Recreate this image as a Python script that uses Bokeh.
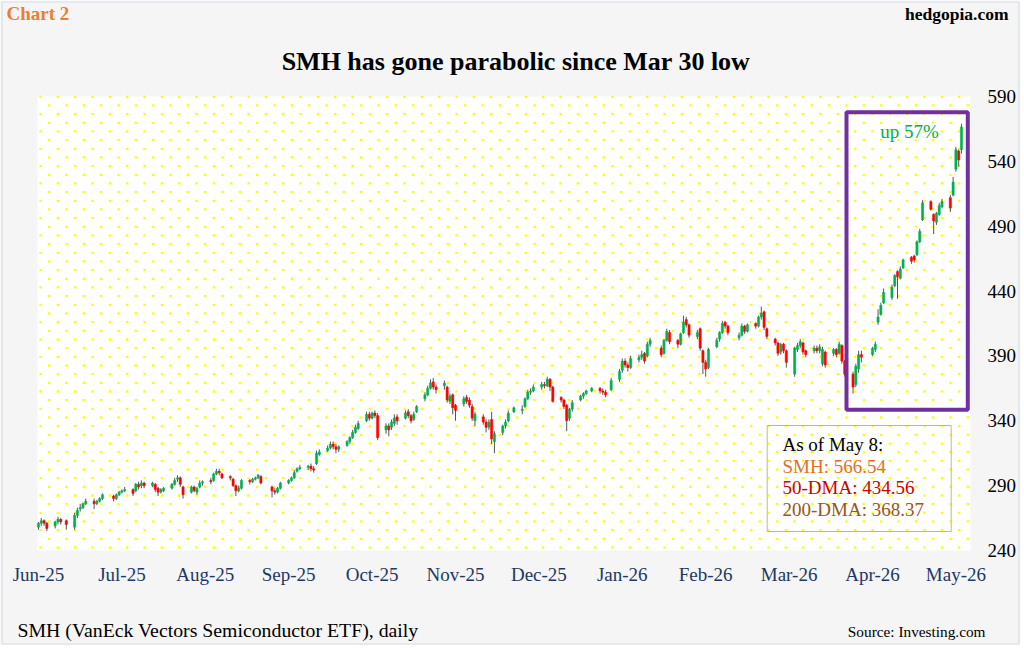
import numpy as np
import pandas as pd
from bokeh.plotting import figure
from bokeh.models import Range1d, FixedTicker, Label, BoxAnnotation, ColumnDataSource
from bokeh.embed import file_html
from bokeh.resources import INLINE

# ---------------- data ----------------
start_date = "2025-06-10"
end_date = "2026-05-08"
market_holidays = ["2025-06-19", "2025-07-04", "2025-09-01", "2025-11-27", "2025-12-25",
                   "2026-01-01", "2026-01-19", "2026-02-16", "2026-04-03"]

opens = [
    258, 261, 263, 261,
    259, 262, 264, 263,
    258, 267, 272, 273, 276,
    278, 276, 278, 280,
    282, 280, 283, 285, 286,
    287, 286, 291, 290, 292,
    290, 291, 288, 285, 286,
    288, 291, 295, 296, 289,
    285, 289, 285, 289, 292,
    294, 294, 299, 301, 299,
    297, 295, 290, 286, 288,
    294, 293, 295, 296, 297,
    289, 286, 285, 288,
    292, 294, 296, 301, 303,
    304, 305, 303, 307, 314,
    317, 319, 322, 320, 318,
    321, 324, 327, 331, 334,
    340, 345, 342, 346, 344,
    333, 336, 335, 338, 343,
    342, 347, 344, 341, 347,
    357, 360, 365, 370, 366,
    367, 366, 355, 360, 352,
    353, 358, 356, 351, 340,
    343, 339, 335, 341, 324,
    331, 336, 340, 347,
    348, 351, 357, 362, 363,
    366, 368, 367, 372, 366,
    358, 356, 352, 342, 349,
    356, 359, 361, 363,
    365, 363, 362, 364,
    372, 379, 386, 383, 381,
    387, 389, 392, 390, 399,
    396, 392, 402, 408,
    402, 399, 408, 418, 414,
    405, 411, 394, 385, 381,
    397, 403, 408, 416, 413,
    404, 406, 413, 409,
    415, 413, 420, 424, 411,
    403, 400, 393, 399, 394,
    376, 395, 398, 400, 394,
    394, 396, 394, 384, 393,
    392, 395, 392, 398, 386,
    376, 368, 380, 391,
    391, 395, 416, 422, 431,
    435, 444, 455, 450, 458,
    466, 467, 468, 478, 495,
    509, 499, 493, 499, 505,
    512, 514, 534, 548, 549,
]
highs = [
    262, 265, 264, 262,
    263, 266, 265, 264,
    269, 273, 276, 277, 280,
    280, 279, 281, 284,
    283, 284, 286, 287, 289,
    288, 292, 293, 294, 293,
    293, 292, 289, 288, 289,
    292, 296, 298, 297, 290,
    290, 290, 289, 294, 294,
    296, 300, 303, 303, 300,
    298, 296, 291, 290, 295,
    295, 296, 297, 299, 298,
    290, 288, 289, 293,
    295, 297, 302, 304, 306,
    306, 307, 305, 317, 318,
    321, 324, 324, 322, 321,
    325, 328, 333, 337, 340,
    347, 347, 347, 348, 346,
    338, 338, 341, 345, 345,
    348, 349, 345, 347, 352,
    362, 367, 372, 373, 368,
    371, 367, 361, 361, 353,
    359, 360, 358, 353, 347,
    345, 341, 341, 347, 332,
    337, 341, 348, 351,
    352, 358, 364, 365, 368,
    370, 370, 374, 373, 367,
    359, 357, 353, 350, 356,
    360, 362, 364, 366,
    366, 365, 364, 373,
    380, 388, 388, 385, 390,
    391, 394, 393, 401, 404,
    398, 403, 411, 410,
    403, 408, 421, 420, 415,
    410, 412, 395, 387, 396,
    404, 409, 417, 417, 414,
    408, 415, 414, 415,
    416, 421, 428, 425, 412,
    404, 401, 400, 400, 395,
    397, 400, 403, 401, 395,
    398, 398, 399, 397, 394,
    396, 396, 401, 399, 387,
    378, 384, 394, 394,
    397, 401, 426, 431, 442,
    445, 453, 456, 459, 465,
    467, 468, 479, 488, 510,
    510, 500, 501, 508, 511,
    514, 528, 551, 549, 569,
]
lows = [
    256, 259, 259, 255,
    257, 260, 260, 256,
    256, 265, 270, 272, 275,
    272, 275, 277, 279,
    278, 279, 282, 284, 285,
    282, 285, 287, 288, 288,
    289, 285, 282, 284, 285,
    287, 290, 293, 289, 280,
    284, 285, 283, 288, 290,
    291, 293, 298, 298, 295,
    294, 289, 282, 285, 287,
    291, 292, 294, 295, 291,
    281, 283, 284, 287,
    291, 293, 295, 300, 302,
    302, 301, 300, 306, 313,
    316, 318, 318, 315, 316,
    320, 322, 326, 330, 333,
    339, 340, 341, 342, 325,
    330, 328, 333, 336, 337,
    341, 342, 338, 340, 346,
    355, 359, 364, 364, 361,
    364, 354, 353, 345, 340,
    351, 353, 350, 340, 336,
    337, 331, 333, 322, 315,
    329, 334, 339, 346,
    345, 350, 356, 360, 362,
    364, 365, 366, 363, 354,
    354, 349, 332, 340, 347,
    355, 357, 360, 362,
    361, 360, 358, 363,
    370, 377, 381, 378, 380,
    385, 387, 384, 389, 397,
    389, 391, 401, 399,
    396, 398, 407, 412, 404,
    403, 394, 376, 374, 380,
    396, 401, 407, 411, 406,
    402, 405, 407, 408,
    411, 412, 418, 410, 403,
    398, 390, 391, 392, 381,
    374, 393, 396, 391, 389,
    392, 392, 392, 382, 381,
    390, 389, 391, 384, 374,
    361, 366, 377, 385,
    390, 393, 414, 421, 430,
    433, 443, 434, 449, 457,
    461, 462, 467, 477, 494,
    502, 484, 491, 498, 504,
    501, 513, 532, 536, 546,
]
closes = [
    261, 263, 261, 257,
    262, 264, 262, 260,
    267, 271, 273, 276, 278,
    276, 278, 280, 283,
    280, 283, 285, 286, 287,
    284, 291, 289, 292, 290,
    292, 287, 285, 287, 288,
    291, 294, 296, 291, 283,
    289, 286, 288, 292, 293,
    293, 299, 301, 300, 296,
    296, 290, 286, 288, 294,
    293, 295, 296, 298, 292,
    286, 285, 288, 292,
    294, 296, 300, 303, 304,
    305, 303, 302, 315, 316,
    319, 322, 320, 318, 320,
    324, 327, 331, 335, 338,
    345, 342, 346, 344, 327,
    336, 333, 339, 342, 340,
    346, 344, 340, 345, 351,
    360, 365, 369, 366, 364,
    369, 356, 359, 350, 348,
    357, 355, 352, 342, 345,
    339, 335, 339, 326, 330,
    336, 339, 346, 350,
    349, 357, 362, 363, 366,
    368, 367, 372, 366, 355,
    356, 351, 340, 349, 354,
    359, 361, 363, 365,
    363, 362, 360, 371,
    378, 386, 383, 381, 388,
    389, 391, 386, 399, 402,
    391, 402, 409, 401,
    399, 407, 416, 414, 406,
    408, 396, 385, 380, 395,
    402, 408, 415, 413, 408,
    406, 413, 409, 414,
    413, 420, 423, 412, 405,
    400, 392, 399, 394, 385,
    396, 398, 401, 393, 391,
    396, 394, 397, 395, 383,
    395, 391, 399, 386, 376,
    366, 382, 391, 389,
    396, 399, 420, 429, 439,
    443, 452, 451, 457, 464,
    463, 464, 478, 486, 508,
    503, 494, 500, 506, 509,
    504, 524, 549, 541, 566.54,
]

month_labels = ["Jun-25", "Jul-25", "Aug-25", "Sep-25", "Oct-25", "Nov-25",
                "Dec-25", "Jan-26", "Feb-26", "Mar-26", "Apr-26", "May-26"]
label_step_days = 30
y_ticks = [240, 290, 340, 390, 440, 490, 540, 590]

title_text = "SMH has gone parabolic since Mar 30 low"
chart_tag = "Chart 2"
site_text = "hedgopia.com"
footer_left = "SMH (VanEck Vectors Semiconductor ETF), daily"
footer_right = "Source: Investing.com"
callout_text = "up 57%"
info_lines = ["As of May 8:", "SMH: 566.54", "50-DMA: 434.56", "200-DMA: 368.37"]
info_colors = ["#000000", "#E0702C", "#CC0000", "#9A5520"]

# ---------------- build ----------------
dates = pd.bdate_range(start_date, end_date)
dates = dates[~dates.isin(pd.to_datetime(market_holidays))]
n = min(len(dates), len(closes))
dnum = np.asarray((dates[:n] - dates[0]).days, dtype=float)
o = np.array(opens[:n], float); h = np.array(highs[:n], float)
l = np.array(lows[:n], float); c = np.array(closes[:n], float)
up = c >= o
src = ColumnDataSource(dict(
    x=dnum, o=o, h=h, l=l, c=c,
    top=np.maximum(o, c), bot=np.minimum(o, c),
    col=np.where(up, "#00B050", "#FF0000"),
))

W, H = 1020, 645
FL, FR, FT, FB = 37, 970, 96, 550   # plot-area edges in page pixels
X0, X1 = -0.36, 335.25              # days shown across the plot area
Y0, Y1 = 240, 590
BG = "#F5F5F5"
SERIF = "Liberation Serif"

def px2x(px):
    return X0 + (px - FL) * (X1 - X0) / (FR - FL)

def py2y(py):
    return Y1 - (py - FT) * (Y1 - Y0) / (FB - FT)

# the frame covers the whole canvas; the white plot area is drawn inside it
p = figure(width=W, height=H,
           x_range=Range1d(px2x(0), px2x(W)), y_range=Range1d(py2y(H), py2y(0)),
           output_backend="svg", toolbar_location=None, y_axis_location="right",
           min_border_left=0, min_border_right=0, min_border_top=0, min_border_bottom=0)
p.background_fill_color = BG
p.border_fill_color = BG
p.outline_line_color = None
p.grid.visible = False

ticks = [label_step_days * k for k in range(len(month_labels))]
p.xaxis.ticker = FixedTicker(ticks=ticks)
p.xaxis.major_label_overrides = {t: lab for t, lab in zip(ticks, month_labels)}
p.yaxis.ticker = FixedTicker(ticks=y_ticks)
for ax, color, standoff in ((p.xaxis, "#1F3864", 13 - (H - FB)),
                            (p.yaxis, "#000000", 17 - (W - FR))):
    ax.axis_line_color = None
    ax.major_tick_line_color = None
    ax.minor_tick_line_color = None
    ax.major_tick_out = 0
    ax.major_tick_in = 0
    ax.minor_tick_out = 0
    ax.minor_tick_in = 0
    ax.major_label_text_font = SERIF
    ax.major_label_text_font_size = "19px"
    ax.major_label_text_color = color
    ax.major_label_standoff = standoff

# outer light frame line and white plot area
p.quad(left=[px2x(1.5)], right=[px2x(1018.5)], bottom=[py2y(643.5)], top=[py2y(1.5)],
       fill_color=None, line_color="#D8DEE6", line_width=1.2)
p.quad(left=[X0], right=[X1], bottom=[Y0], top=[Y1], fill_color="#FFFFFF", line_color=None)

# dotted background pattern (decoration)
gx, gy = [], []
for j in range(53):
    py = 96.3 + 8.667 * j
    px = 40.0 + (8.667 if j % 2 else 0.0)
    while px <= 969:
        gx.append(px2x(px)); gy.append(py2y(py))
        px += 17.333
p.scatter(gx, gy, marker="square", size=2.3, fill_color="#FFFF00", line_color=None)

# candles
p.segment("x", "h", "x", "l", source=src, line_color="#555555", line_width=1)
p.vbar(x="x", width=0.8, top="top", bottom="bot", source=src,
       fill_color="col", line_color="col", line_width=0.5)

# purple callout box
p.add_layout(BoxAnnotation(left=px2x(846), right=px2x(967.3), top=py2y(111.7), bottom=py2y(409.3),
                           fill_alpha=0, line_alpha=1, line_color="#7030A0", line_width=4))

# info box
p.add_layout(BoxAnnotation(left=px2x(766.7), right=px2x(950.7), top=py2y(425), bottom=py2y(531),
                           fill_alpha=0, line_alpha=1, line_color="#C9B48A", line_width=1))

def txt(px, py, text, size, color="#000000", align="left", bold=False):
    p.add_layout(Label(x=px2x(px), y=py2y(py), text=text, text_font=SERIF,
                       text_font_size=size, text_color=color,
                       text_font_style="bold" if bold else "normal",
                       text_align=align, text_baseline="middle"))

txt(909, 131, callout_text, "19px", "#00B050", align="center")
for k, (line, col) in enumerate(zip(info_lines, info_colors)):
    txt(782, 444 + 21.7 * k, line, "19px", col)

txt(6, 12.5, chart_tag, "19px", "#ED7D31", bold=True)
txt(1008, 13, site_text, "17.5px", align="right", bold=True)
txt(515.5, 60.5, title_text, "26px", align="center", bold=True)
txt(17, 629, footer_left, "19.8px")
txt(985, 630.5, footer_right, "15.3px", align="right")

open("out.html", "w").write(file_html(p, INLINE))
